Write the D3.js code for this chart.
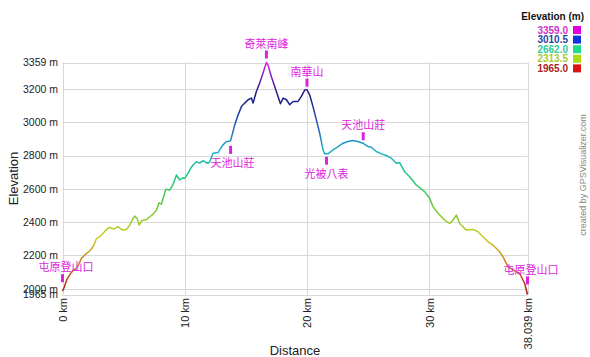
<!DOCTYPE html>
<html><head><meta charset="utf-8">
<script src="https://cdn.jsdelivr.net/npm/d3@7/dist/d3.min.js"></script>
<style>
body{margin:0;background:#fff;}
svg{display:block;font-family:"Liberation Sans",Arial,sans-serif;}
</style></head>
<body><svg id="c" width="590" height="357"></svg>
<script>
const distanceKm = [0,0.15,0.33,0.6,0.87,1.14,1.35,1.55,1.96,2.2,2.5,2.78,3.0,3.19,3.6,3.87,4.1,4.28,4.55,4.75,4.95,5.23,5.5,5.75,5.91,6.1,6.27,6.46,6.87,7.15,7.41,7.69,7.9,8.09,8.3,8.45,8.77,9.0,9.18,9.32,9.59,9.8,10.0,10.27,10.5,10.68,10.96,11.23,11.5,11.7,11.9,12.04,12.31,12.72,12.95,13.13,13.41,13.6,13.75,13.9,14.09,14.36,14.64,14.91,15.18,15.46,15.59,15.86,16.13,16.4,16.68,16.81,17.08,17.36,17.63,17.83,18.05,18.32,18.59,18.86,19.27,19.54,19.82,20.0,20.22,20.49,20.77,21.04,21.31,21.45,21.72,22.13,22.54,22.95,23.35,23.76,24.17,24.58,24.99,25.26,25.67,26.08,26.49,26.9,27.31,27.58,27.99,28.4,28.94,29.62,30.03,30.31,30.72,31.26,31.67,31.94,32.22,32.49,33.04,33.58,33.99,34.4,34.81,35.21,35.76,36.04,36.45,37.0,37.4,37.81,38.039];
const elevationM = [1985,2010,2051,2085,2111,2121,2150,2182,2212,2225,2252,2302,2310,2322,2356,2368,2360,2362,2372,2360,2352,2356,2382,2420,2436,2422,2382,2408,2416,2432,2448,2472,2516,2508,2560,2597,2593,2620,2653,2683,2653,2665,2663,2693,2725,2743,2763,2754,2769,2760,2754,2763,2814,2818,2845,2864,2884,2884,2890,2930,2984,3044,3094,3115,3135,3145,3115,3185,3235,3295,3359,3345,3275,3215,3155,3111,3145,3135,3105,3125,3125,3155,3195,3195,3165,3094,3014,2934,2834,2810,2810,2834,2854,2874,2884,2890,2884,2874,2854,2850,2824,2810,2800,2784,2754,2757,2703,2673,2623,2583,2543,2493,2453,2412,2392,2412,2442,2392,2352,2356,2342,2312,2282,2262,2222,2191,2131,2107,2091,2031,1965];

const yTicks = [1965,2000,2200,2400,2600,2800,3000,3200,3359];
const xTicks = [0,10,20,30,38.039];
const legendValues = [3359.0,3010.5,2662.0,2313.5,1965.0];

const waypointNames = ["屯原登山口","天池山莊","奇萊南峰","南華山","光被八表","天池山莊","屯原登山口"];
const waypointKm    = [0,13.75,16.68,20.0,21.6,24.6,38.039];
const waypointElev  = [2015,2882,3359,3190,2817,2868,2001];
const waypointSide  = ["above","below","above","above","below","above","above"];

const svg = d3.select("#c");
const x = d3.scaleLinear().domain([0,38.039]).range([62.5,527.5]);
const y = d3.scaleLinear().domain([1965,3359]).range([294.5,62.5]);

// grid
svg.append("g").selectAll("line").data(yTicks).join("line")
  .attr("x1",x(0)).attr("x2",x(38.039)).attr("y1",d=>Math.round(y(d))+0.5).attr("y2",d=>Math.round(y(d))+0.5)
  .attr("stroke","#d8d8d8").attr("stroke-width",1);
svg.append("g").selectAll("line").data(xTicks).join("line")
  .attr("y1",y(3359)).attr("y2",y(1965)).attr("x1",d=>Math.round(x(d))+0.5).attr("x2",d=>Math.round(x(d))+0.5)
  .attr("stroke","#d8d8d8").attr("stroke-width",1);

// axes labels
const yAxis = d3.axisLeft(y).tickValues(yTicks).tickSize(0).tickPadding(4).tickFormat(d=>d+" m");
const gy = svg.append("g").attr("transform","translate(58,0)").call(yAxis);
gy.select(".domain").remove();
gy.selectAll("text").attr("font-size","10.5px").attr("fill","#222").attr("font-family","Liberation Sans, Arial, sans-serif").attr("x",0);

const xAxis = d3.axisBottom(x).tickValues(xTicks).tickSize(0).tickFormat(d=>d+" km");
const gx = svg.append("g").attr("transform","translate(0,298)").call(xAxis);
gx.select(".domain").remove();
gx.selectAll("text").attr("font-size","11px").attr("fill","#222").attr("font-family","Liberation Sans, Arial, sans-serif")
  .attr("transform","rotate(-90)").attr("text-anchor","end").attr("x",0).attr("y",0).attr("dy","0.35em");

// titles
svg.append("text").attr("transform",`translate(18,${(y(1965)+y(3359))/2}) rotate(-90)`)
  .attr("text-anchor","middle").attr("font-size","13px").attr("fill","#222").text("Elevation");
svg.append("text").attr("x",(x(0)+x(38.039))/2).attr("y",355).attr("text-anchor","middle")
  .attr("font-size","13px").attr("fill","#222").text("Distance");
svg.append("text").attr("transform","translate(586,175) rotate(-90)").attr("text-anchor","middle")
  .attr("font-size","9px").attr("fill","#888").text("created by GPSVisualizer.com");

// gradient
const defs = svg.append("defs");
const grad = defs.append("linearGradient").attr("id","eg").attr("gradientUnits","userSpaceOnUse")
  .attr("x1",0).attr("x2",0).attr("y1",y(1965)).attr("y2",y(3359));
const stops = [[0,"#a01818"],[0.12,"#d07018"],[0.25,"#c8d020"],[0.37,"#70c830"],[0.5,"#20c880"],[0.62,"#20b0c8"],[0.72,"#2060c0"],[0.85,"#1a1a80"],[0.95,"#8020c0"],[1,"#e020e0"]];
grad.selectAll("stop").data(stops).join("stop").attr("offset",d=>d[0]).attr("stop-color",d=>d[1]);

const pts = distanceKm.map((d,i)=>[d,elevationM[i]]);
svg.append("path").datum(pts)
  .attr("d",d3.line().x(d=>x(d[0])).y(d=>y(d[1])))
  .attr("fill","none").attr("stroke","url(#eg)").attr("stroke-width",1.5).attr("stroke-linejoin","round");

// waypoints
const magenta = "#dd22dd";
const textDx = [3.5,2,0,0,0,0,3.5];
waypointNames.forEach((name,i)=>{
  const px = x(waypointKm[i]), py = y(waypointElev[i]);
  const above = waypointSide[i]==="above";
  svg.append("rect").attr("x",px-1.5).attr("y",above?py-12:py+4).attr("width",3).attr("height",8).attr("fill",magenta);
  svg.append("text").attr("x",px+textDx[i]).attr("y",above?py-15:py+25).attr("text-anchor","middle")
    .attr("font-size","11px").attr("fill",magenta).attr("font-family","Noto Sans CJK TC, sans-serif").text(name);
});

// legend
svg.append("text").attr("x",584).attr("y",20).attr("text-anchor","end").attr("font-size","10px")
  .attr("font-weight","bold").attr("fill","#111").text("Elevation (m)");
const legTextCol = ["#cc33cc","#2a3f9f","#33cc99","#aacc33","#aa2222"];
const legSwCol = ["#dd00dd","#1133dd","#22dd88","#aadd11","#dd1111"];
const lg = svg.append("g");
legendValues.forEach((v,i)=>{
  const cy = 30 + i*9.6;
  lg.append("text").attr("x",568).attr("y",cy).attr("dy","0.35em").attr("text-anchor","end")
    .attr("font-size","10px").attr("font-weight","bold").attr("fill",legTextCol[i]).text(v.toFixed(1));
  lg.append("rect").attr("x",573).attr("y",cy-4).attr("width",8).attr("height",8).attr("fill",legSwCol[i]);
});
</script></body></html>
